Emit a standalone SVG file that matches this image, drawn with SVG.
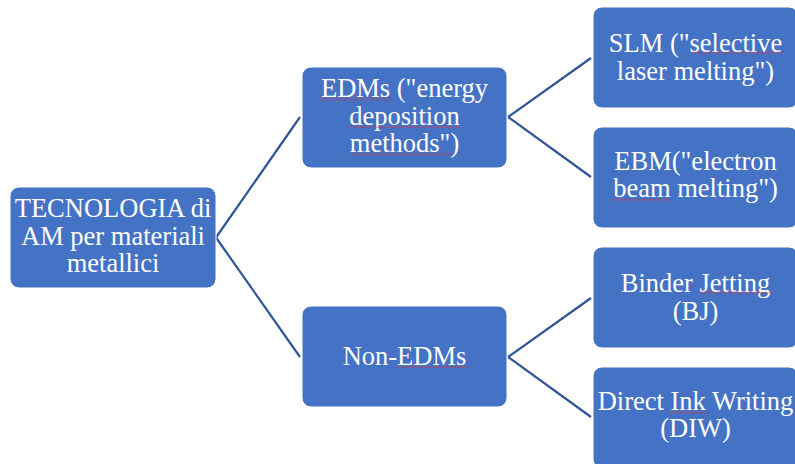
<svg xmlns="http://www.w3.org/2000/svg" width="795" height="464" viewBox="0 0 795 464">
  <style>
    .node rect.box { fill: #4472C4; stroke: #ffffff; stroke-width: 1; }
    .node text { font-family: 'Liberation Serif', 'DejaVu Serif', serif; font-size: 26.5px; fill: #ffffff; text-anchor: middle; }
    #connectors line { stroke: #2F5597; stroke-width: 2.2; fill: none; }
    .squiggle { fill: url(#wave); }
  </style>
  <defs>
    <pattern id="wave" x="0" y="0" width="4" height="3" patternUnits="userSpaceOnUse">
      <path d="M0,2.5 L2,0.5 L4,2.5" fill="none" stroke="#E0303A" stroke-width="0.8"/>
    </pattern>
  </defs>
  <rect width="795" height="464" fill="#ffffff"/>

  <g id="connectors">
    <line x1="216" y1="237.5" x2="300" y2="117"/>
    <line x1="216" y1="237.5" x2="300" y2="357"/>
    <line x1="508" y1="117" x2="591" y2="58"/>
    <line x1="508" y1="117" x2="591" y2="177"/>
    <line x1="508" y1="357" x2="591" y2="298"/>
    <line x1="508" y1="357" x2="591" y2="417"/>
  </g>

  <g id="root" class="node" font-family="Liberation Serif, serif">
    <rect class="box" x="10" y="187" width="206" height="101" rx="9"/>
    <text x="113" y="217">TECNOLOGIA di</text>
    <text x="113" y="245">AM per materiali</text>
    <text x="113" y="272">metallici</text>
  </g>

  <g id="edms" class="node">
    <rect class="box" x="302" y="67" width="205" height="101" rx="9"/>
    <text x="404.5" y="97">EDMs ("energy</text>
    <text x="404.5" y="125">deposition</text>
    <text x="404.5" y="152">methods")</text>
    <rect class="squiggle" x="320" y="97.5" width="72" height="3"/>
    <rect class="squiggle" x="349" y="125.5" width="111" height="3"/>
    <rect class="squiggle" x="350" y="152.5" width="103" height="3"/>
  </g>

  <g id="non-edms" class="node">
    <rect class="box" x="302" y="306" width="205" height="101" rx="9"/>
    <text x="404.5" y="365">Non-EDMs</text>
    <rect class="squiggle" x="397" y="365.5" width="71" height="3"/>
  </g>

  <g id="slm" class="node">
    <rect class="box" x="593" y="7" width="205" height="101" rx="9"/>
    <text x="695.5" y="52">SLM ("selective</text>
    <text x="695.5" y="80">laser melting")</text>
    <rect class="squiggle" x="691" y="51.5" width="92" height="3"/>
  </g>

  <g id="ebm" class="node">
    <rect class="box" x="593" y="127" width="205" height="101" rx="9"/>
    <text x="695.5" y="170">EBM("electron</text>
    <text x="695.5" y="197">beam melting")</text>
    <rect class="squiggle" x="612" y="199" width="58" height="3"/>
  </g>

  <g id="bj" class="node">
    <rect class="box" x="593" y="247" width="205" height="101" rx="9"/>
    <text x="695.5" y="292">Binder Jetting</text>
    <text x="695.5" y="320">(BJ)</text>
    <rect class="squiggle" x="700" y="291.5" width="73" height="3"/>
  </g>

  <g id="diw" class="node">
    <rect class="box" x="593" y="367" width="205" height="101" rx="9"/>
    <text x="695.5" y="410">Direct Ink Writing</text>
    <text x="695.5" y="437">(DIW)</text>
    <rect class="squiggle" x="670" y="411" width="37" height="3"/>
  </g>
</svg>
